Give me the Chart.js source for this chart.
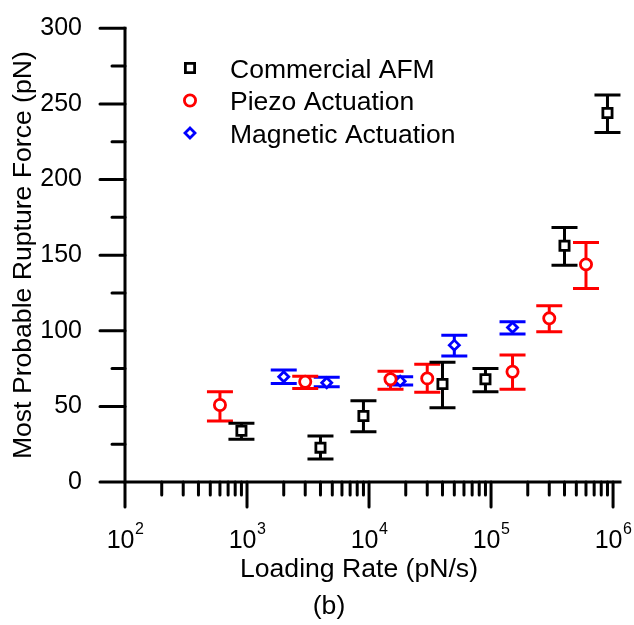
<!DOCTYPE html>
<html>
<head>
<meta charset="utf-8">
<script src="https://cdn.jsdelivr.net/npm/chart.js@4.4.0/dist/chart.umd.min.js"></script>
<style>
  html, body { margin: 0; padding: 0; background: #fff; }
  #wrap { width: 634px; height: 625px; position: relative; }
</style>
</head>
<body>
<div id="wrap"><canvas id="chart"></canvas></div>
<script>
// Commercial AFM
const afmRate = [900, 4000, 9000, 40000, 90000, 400000, 900000];
const afmForce = [33.9, 22.7, 43.6, 64.8, 67.9, 156.2, 244.0];
const afmLow = [28.2, 15.2, 33.2, 49.1, 59.7, 143.4, 231.1];
const afmHigh = [38.8, 30.4, 53.7, 79.1, 75.1, 168.3, 255.9];

// Piezo actuation
const piezoRate = [600, 3000, 15000, 30000, 150000, 300000, 600000];
const piezoForce = [50.9, 66.3, 67.9, 68.5, 72.9, 108.2, 143.9];
const piezoLow = [40.3, 61.9, 61.3, 59.3, 61.3, 99.3, 128.0];
const piezoHigh = [59.7, 70.0, 73.3, 77.8, 83.9, 116.5, 158.4];

// Magnetic actuation
const magRate = [2000, 4500, 18000, 50000, 150000];
const magForce = [69.6, 65.6, 66.7, 90.5, 102.2];
const magLow = [65.2, 63.0, 64.1, 83.3, 97.8];
const magHigh = [74.0, 69.2, 69.6, 97.1, 105.9];

const seriesNames = ["Commercial AFM", "Piezo Actuation", "Magnetic Actuation"];
const xDecades = [2, 3, 4, 5, 6];
const xTitle = "Loading Rate (pN/s)";
const yTitle = "Most Probable Rupture Force (pN)";
const panelLabel = "(b)";

const FONT = "'Liberation Sans', Arial, sans-serif";

const toPoints = (xs, ys) => xs.map((x, i) => ({ x: x, y: ys[i] }));

const drawMarker = (ctx, style, r, x, y) => {
  ctx.beginPath();
  if (style === "rect") {
    const s = Math.SQRT1_2 * r;
    ctx.rect(x - s, y - s, 2 * s, 2 * s);
  } else if (style === "rectRot") {
    ctx.moveTo(x - r, y);
    ctx.lineTo(x, y - r);
    ctx.lineTo(x + r, y);
    ctx.lineTo(x, y + r);
    ctx.closePath();
  } else {
    ctx.arc(x, y, r, 0, Math.PI * 2);
  }
  ctx.fill();
  ctx.stroke();
};

// error bars under the markers
const errorBars = {
  id: "errorBars",
  beforeDatasetsDraw(chart) {
    const ctx = chart.ctx;
    const xs = chart.scales.x, ys = chart.scales.y;
    ctx.save();
    ctx.lineWidth = 3;
    ctx.lineCap = "butt";
    for (let d = chart.data.datasets.length - 1; d >= 0; d--) {
      const ds = chart.data.datasets[d];
      ctx.strokeStyle = ds.borderColor;
      ds.data.forEach((p, i) => {
        const px = xs.getPixelForValue(p.x);
        const lo = ys.getPixelForValue(ds.errLow[i]);
        const hi = ys.getPixelForValue(ds.errHigh[i]);
        const cap = 13;
        ctx.beginPath();
        ctx.moveTo(px, lo); ctx.lineTo(px, hi);
        ctx.moveTo(px - cap, lo); ctx.lineTo(px + cap, lo);
        ctx.moveTo(px - cap, hi); ctx.lineTo(px + cap, hi);
        ctx.stroke();
      });
    }
    ctx.restore();
  }
};

// axis lines, ticks, log labels, legend, titles under the axis
const decor = {
  id: "decor",
  afterDraw(chart) {
    const ctx = chart.ctx;
    const xs = chart.scales.x, ys = chart.scales.y;
    const { left, right, top, bottom } = chart.chartArea;
    ctx.save();
    ctx.strokeStyle = "#000";
    ctx.fillStyle = "#000";
    ctx.lineWidth = 3;
    ctx.lineCap = "square";
    ctx.beginPath();
    ctx.moveTo(left, top); ctx.lineTo(left, bottom); ctx.lineTo(right, bottom);
    ctx.stroke();

    ctx.lineCap = "round";
    ctx.beginPath();
    ys.ticks.forEach((t, i) => {
      const py = ys.getPixelForValue(t.value);
      ctx.moveTo(left - 25, py); ctx.lineTo(left, py);
      if (i < ys.ticks.length - 1) {
        const pm = ys.getPixelForValue((t.value + ys.ticks[i + 1].value) / 2);
        ctx.moveTo(left - 13, pm); ctx.lineTo(left, pm);
      }
    });
    xDecades.forEach((e, i) => {
      const base = Math.pow(10, e);
      const px = xs.getPixelForValue(base);
      ctx.moveTo(px, bottom); ctx.lineTo(px, bottom + 25);
      if (i < xDecades.length - 1) {
        for (let k = 2; k <= 9; k++) {
          const pm = xs.getPixelForValue(k * base);
          ctx.moveTo(pm, bottom); ctx.lineTo(pm, bottom + 13);
        }
      }
    });
    ctx.stroke();

    // x tick labels 10^n
    ctx.textAlign = "left";
    ctx.textBaseline = "alphabetic";
    xDecades.forEach((e) => {
      const px = xs.getPixelForValue(Math.pow(10, e));
      ctx.font = "25px " + FONT;
      const wBase = ctx.measureText("10").width;
      ctx.font = "16px " + FONT;
      const wExp = ctx.measureText(String(e)).width;
      const x0 = px - (wBase + wExp) / 2;
      ctx.font = "25px " + FONT;
      ctx.fillText("10", x0, bottom + 66.3);
      ctx.font = "16px " + FONT;
      ctx.fillText(String(e), x0 + wBase + 0.5, bottom + 51.5);
    });

    // legend
    ctx.font = "26.5px " + FONT;
    chart.data.datasets.forEach((ds, i) => {
      const cy = 68 + i * 32.5;
      ctx.strokeStyle = ds.borderColor;
      ctx.fillStyle = "#fff";
      ctx.lineWidth = 2.8;
      drawMarker(ctx, ds.pointStyle, ds.pointRadius, 190, cy);
      ctx.fillStyle = "#000";
      ctx.fillText(ds.label, 230, cy + 9.5);
    });

    // x axis title and panel label
    ctx.textAlign = "center";
    ctx.font = "26.6px " + FONT;
    ctx.fillText(xTitle, 359, 576.5);
    ctx.fillText(panelLabel, 329, 614);
    ctx.restore();
  }
};

const ctxC = document.getElementById("chart").getContext("2d");

const plot = new Chart(ctxC, {
  type: "scatter",
  data: {
    datasets: [
      {
        label: seriesNames[0],
        data: toPoints(afmRate, afmForce),
        errLow: afmLow, errHigh: afmHigh,
        borderColor: "#000000",
        pointStyle: "rect",
        pointRadius: 6.5,
        pointBorderWidth: 2.8,
        pointBackgroundColor: "#ffffff"
      },
      {
        label: seriesNames[1],
        data: toPoints(piezoRate, piezoForce),
        errLow: piezoLow, errHigh: piezoHigh,
        borderColor: "#ff0000",
        pointStyle: "circle",
        pointRadius: 5.6,
        pointBorderWidth: 2.8,
        pointBackgroundColor: "#ffffff"
      },
      {
        label: seriesNames[2],
        data: toPoints(magRate, magForce),
        errLow: magLow, errHigh: magHigh,
        borderColor: "#0000ff",
        pointStyle: "rectRot",
        pointRadius: 5,
        pointBorderWidth: 2.8,
        pointBackgroundColor: "#ffffff"
      }
    ]
  },
  options: {
    responsive: true,
    maintainAspectRatio: false,
    animation: false,
    events: [],
    layout: { padding: { top: 0, right: 14, left: 0, bottom: 0 } },
    plugins: {
      legend: { display: false },
      tooltip: { enabled: false }
    },
    scales: {
      x: {
        type: "logarithmic",
        min: 100,
        max: 1.14e6,
        grid: { display: false, drawTicks: false },
        border: { display: false },
        ticks: { display: false },
        title: { display: false },
        afterFit: (s) => { s.height = 143; }
      },
      y: {
        type: "linear",
        min: 0,
        max: 300,
        grid: { display: false, drawTicks: false },
        border: { display: false },
        ticks: {
          stepSize: 50,
          padding: 43,
          color: "#000",
          font: { family: FONT, size: 25 }
        },
        title: {
          display: true,
          text: yTitle,
          color: "#000",
          font: { family: FONT, size: 26.6 },
          padding: { top: 8, bottom: 0 }
        },
        afterFit: (s) => {
          s.width = 125;
          s.paddingTop = 28.3;
          s.paddingBottom = 0;
        }
      }
    }
  },
  plugins: [errorBars, decor]
});
</script>
</body>
</html>
